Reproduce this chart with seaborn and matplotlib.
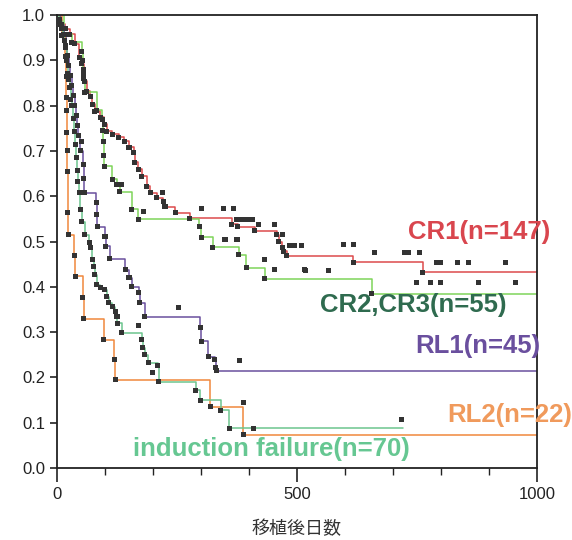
import matplotlib
matplotlib.use("Agg")
import matplotlib.pyplot as plt
import matplotlib.ticker as mticker
import seaborn as sns
import pandas as pd

# ---------------- data ----------------
groups = ["CR1(n=147)", "CR2,CR3(n=55)", "RL1(n=45)", "RL2(n=22)", "induction failure(n=70)"]

cr1_t = [0, 6, 10, 17, 27, 37, 46, 52, 56, 58, 62, 69, 73, 79, 90, 98, 104, 115, 129, 140, 150, 160,
         162, 169, 177, 187, 194, 208, 221, 225, 246, 277, 364, 377, 412, 458, 462, 469, 471, 479,
         617, 762, 1000]
cr1_s = [1.0, 0.99, 0.98, 0.97, 0.958, 0.936, 0.907, 0.892, 0.869, 0.854, 0.832, 0.819, 0.803, 0.788,
         0.774, 0.759, 0.743, 0.737, 0.730, 0.721, 0.708, 0.697, 0.675, 0.659, 0.644, 0.622, 0.608,
         0.597, 0.588, 0.577, 0.564, 0.551, 0.538, 0.533, 0.524, 0.515, 0.500, 0.487, 0.478, 0.469,
         0.454, 0.432, 0.432]

cr2_t = [0, 15, 31, 52, 54, 55, 56, 58, 83, 94, 95, 96, 97, 98, 115, 125, 131, 156, 169, 296, 301,
         324, 379, 394, 433, 656, 1000]
cr2_s = [1.0, 0.958, 0.94, 0.92, 0.90, 0.88, 0.86, 0.83, 0.79, 0.77, 0.745, 0.72, 0.69, 0.666, 0.637,
         0.626, 0.61, 0.571, 0.549, 0.534, 0.509, 0.487, 0.471, 0.442, 0.418, 0.385, 0.385]

rl1_t = [0, 8, 14, 18, 21, 24, 28, 31, 34, 37, 40, 42, 44, 48, 55, 56, 57, 82, 83, 84, 100, 102, 110,
         142, 150, 156, 170, 172, 183, 298, 301, 315, 329, 331, 333, 1000]
rl1_s = [1.0, 0.978, 0.956, 0.933, 0.911, 0.889, 0.867, 0.844, 0.822, 0.80, 0.778, 0.756, 0.733, 0.70,
         0.67, 0.64, 0.608, 0.585, 0.56, 0.533, 0.51, 0.489, 0.462, 0.438, 0.42, 0.40, 0.387, 0.365,
         0.334, 0.31, 0.28, 0.246, 0.239, 0.221, 0.215, 0.215]

rl2_t = [0, 10, 17, 19, 19.5, 20, 20.5, 21, 21.5, 22, 23, 36, 38, 54, 56, 97, 119, 121, 319, 388, 1000]
rl2_s = [1.0, 0.955, 0.909, 0.864, 0.818, 0.79, 0.74, 0.70, 0.655, 0.564, 0.515, 0.47, 0.423, 0.376,
         0.33, 0.283, 0.24, 0.195, 0.135, 0.073, 0.073]

ind_t = [0, 5, 10, 13, 15, 17, 20, 22, 24, 27, 29, 31, 34, 36, 38, 40, 42, 43, 46, 48, 52, 58, 67, 69,
         73, 77, 79, 83, 90, 98, 104, 108, 115, 121, 125, 126, 135, 177, 179, 183, 190, 210, 212, 289,
         298, 341, 359, 410, 720]
ind_s = [1.0, 0.986, 0.971, 0.957, 0.943, 0.929, 0.90, 0.871, 0.857, 0.84, 0.814, 0.80, 0.771, 0.743,
         0.714, 0.686, 0.657, 0.633, 0.608, 0.571, 0.544, 0.515, 0.498, 0.487, 0.46, 0.445, 0.427,
         0.405, 0.398, 0.394, 0.378, 0.365, 0.356, 0.345, 0.334, 0.32, 0.299, 0.283, 0.265, 0.25,
         0.232, 0.226, 0.19, 0.172, 0.15, 0.128, 0.088, 0.088, 0.088]

# floating censor squares (day, survival)
cens_t = [302, 346, 367, 375, 381, 390, 398, 408, 419, 454, 350, 375, 433, 454, 515, 485, 494, 510,
          469, 596, 617, 662, 725, 733, 756, 790, 798, 835, 858, 935, 517, 565, 748, 779, 798, 879,
          956, 717, 254, 381, 198, 169, 388, 180, 135, 219, 52]
cens_s = [0.573, 0.573, 0.573, 0.549, 0.549, 0.549, 0.549, 0.549, 0.538, 0.538, 0.504, 0.504, 0.46,
          0.438, 0.438, 0.491, 0.491, 0.491, 0.515, 0.493, 0.493, 0.476, 0.476, 0.476, 0.476, 0.454,
          0.454, 0.454, 0.454, 0.454, 0.436, 0.436, 0.409, 0.409, 0.409, 0.409, 0.409, 0.108, 0.354,
          0.237, 0.21, 0.314, 0.144, 0.566, 0.626, 0.608, 0.72]

x_ticks_major = [0, 500, 1000]
y_ticks = [0.0, 0.1, 0.2, 0.3, 0.4, 0.5, 0.6, 0.7, 0.8, 0.9, 1.0]
x_label = "移植後日数"

line_colors = ["#dc4a4c", "#7fd45a", "#6a4f9e", "#f0883c", "#6cc58e"]
label_colors = ["#d9464e", "#2f6b4f", "#6a4f9e", "#f09a5c", "#66c792"]

# ---------------- build tables ----------------
series = [(cr1_t, cr1_s), (cr2_t, cr2_s), (rl1_t, rl1_s), (rl2_t, rl2_s), (ind_t, ind_s)]
rows = []
ev_rows = []
for g, (t, s) in zip(groups, series):
    for a, b in zip(t, s):
        rows.append({"day": a, "surv": b, "group": g})
    for a, b in zip(t[1:-1], s[1:-1]):
        ev_rows.append({"day": a, "surv": b, "group": g})
df = pd.DataFrame(rows)
ev = pd.DataFrame(ev_rows)
cens = pd.DataFrame({"day": cens_t, "surv": cens_s})

# ---------------- plot ----------------
sns.set_style("ticks")
plt.rcParams["font.family"] = ["Liberation Sans", "Noto Sans CJK JP", "DejaVu Sans"]

fig = plt.figure(figsize=(5.72, 5.40), dpi=100)
ax = fig.add_axes([57 / 572, 1 - 468 / 540, (537 - 57) / 572, (468 - 15) / 540])

sns.lineplot(data=df, x="day", y="surv", hue="group", hue_order=groups,
             palette=dict(zip(groups, line_colors)), estimator=None, sort=False,
             drawstyle="steps-post", linewidth=1.1, legend=False, ax=ax)
sns.scatterplot(data=ev, x="day", y="surv", marker="s", s=13, color="#333333",
                edgecolor="none", ax=ax, zorder=5)
sns.scatterplot(data=cens, x="day", y="surv", marker="s", s=13, color="#333333",
                edgecolor="none", ax=ax, zorder=5)

# labels
label_pos = [(731, 0.522), (548, 0.360), (746, 0.270), (812, 0.117), (158, 0.042)]
for g, c, (lx, ly) in zip(groups, label_colors, label_pos):
    ax.text(lx, ly, g, color=c, fontsize=18.5, fontweight="bold", ha="left", va="center",
            family=["Liberation Sans", "DejaVu Sans"], zorder=6)

ax.set_xlim(0, 1000)
ax.set_ylim(0, 1.0)
ax.set_xticks(x_ticks_major)
ax.xaxis.set_minor_locator(mticker.MultipleLocator(100))
ax.set_yticks(y_ticks)
ax.yaxis.set_major_formatter(mticker.FormatStrFormatter("%.1f"))
ax.tick_params(axis="x", which="major", length=10, width=1.2, direction="out",
               labelsize=12, pad=4, colors="#222222")
ax.tick_params(axis="x", which="minor", length=5, width=1.0, direction="out", colors="#222222")
ax.tick_params(axis="y", which="major", length=5, width=1.2, direction="out",
               labelsize=12, colors="#222222")
for sp in ax.spines.values():
    sp.set_visible(True)
    sp.set_linewidth(1.3)
    sp.set_color("#222222")

ax.set_xlabel(x_label, fontsize=13, family=["Noto Sans CJK JP", "DejaVu Sans"], labelpad=13,
              color="#333333")
ax.set_ylabel("")

fig.savefig("out.png", dpi=100)
